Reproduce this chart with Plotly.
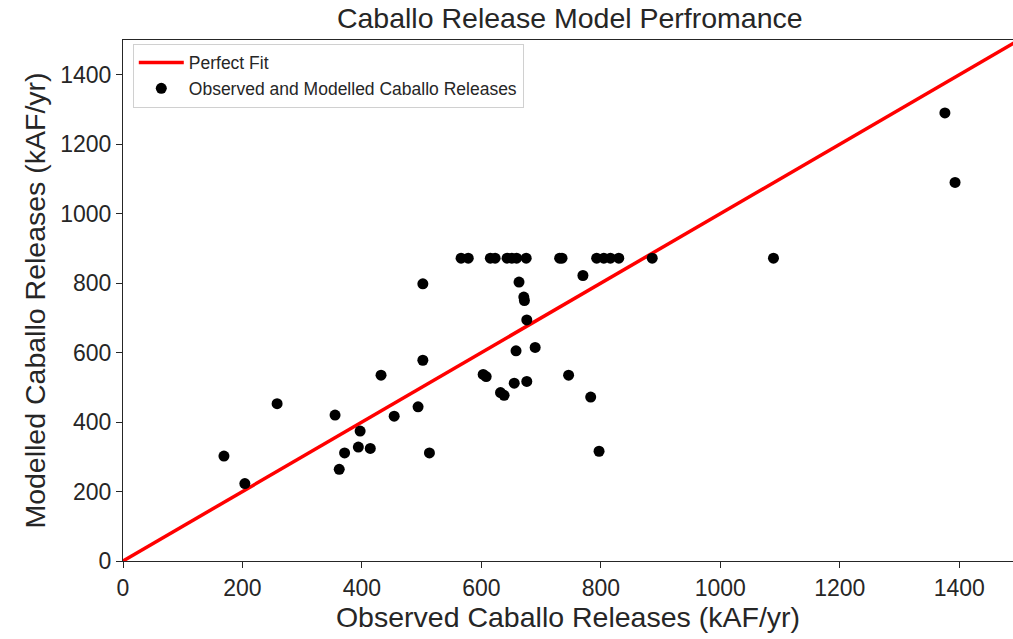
import plotly.graph_objects as go

observed = [169, 204, 258, 355, 362, 371, 394, 397, 414, 432, 454, 494, 502, 502, 513,
            566, 578, 615, 623, 643, 651, 659, 675, 731, 735, 793, 805, 816, 830, 886, 1089,
            663, 671, 672, 676, 770, 658, 690, 603, 608, 632, 638, 655, 676, 746, 783, 797,
            1376, 1393]
modelled = [302, 223, 453, 420, 264, 311, 328, 374, 324, 535, 417, 444, 798, 578, 311,
            872, 872, 872, 872, 872, 872, 872, 872, 872, 872, 872, 872, 872, 872, 872, 872,
            803, 760, 750, 694, 822, 605, 615, 537, 531, 485, 477, 512, 517, 535, 472, 316,
            1290, 1090]
fit_x = [0, 1500]
fit_y = [0, 1500]

fig = go.Figure()
fig.add_trace(go.Scatter(x=fit_x, y=fit_y, mode="lines", name="Perfect Fit",
                         line=dict(color="red", width=3.5)))
fig.add_trace(go.Scatter(x=observed, y=modelled, mode="markers",
                         name="Observed and Modelled Caballo Releases",
                         marker=dict(color="black", size=11)))

font = "Arial, Liberation Sans, sans-serif"
fig.update_layout(
    width=1013, height=639,
    margin=dict(l=123, r=0, t=40, b=78),
    plot_bgcolor="white", paper_bgcolor="white",
    font=dict(family=font, color="#262626"),
    title=dict(text="Caballo Release Model Perfromance", xref="paper", x=0.502, xanchor="center",
               y=0.972, yanchor="middle", font=dict(size=28.5, color="#262626")),
    showlegend=True,
    legend=dict(x=0.011, y=0.993, xanchor="left", yanchor="top",
                bordercolor="#d0d0d0", borderwidth=1, bgcolor="white", itemwidth=45,
                font=dict(size=17.5, color="#262626"), tracegroupgap=0),
    xaxis=dict(range=[0, 1490], tickvals=[0, 200, 400, 600, 800, 1000, 1200, 1400],
               showgrid=False, zeroline=False, showline=True, linecolor="#262626",
               linewidth=1.2, mirror=True, ticks="outside", ticklen=6, tickcolor="#262626",
               tickfont=dict(size=23),
               title=dict(text="Observed Caballo Releases (kAF/yr)", font=dict(size=28.5), standoff=4)),
    yaxis=dict(range=[0, 1500], tickvals=[0, 200, 400, 600, 800, 1000, 1200, 1400],
               showgrid=False, zeroline=False, showline=True, linecolor="#262626",
               linewidth=1.2, mirror=True, ticks="outside", ticklen=6, tickcolor="#262626",
               tickfont=dict(size=23),
               title=dict(text="Modelled Caballo Releases (kAF/yr)", font=dict(size=28.5), standoff=6)),
)
fig.write_html("out.html")
